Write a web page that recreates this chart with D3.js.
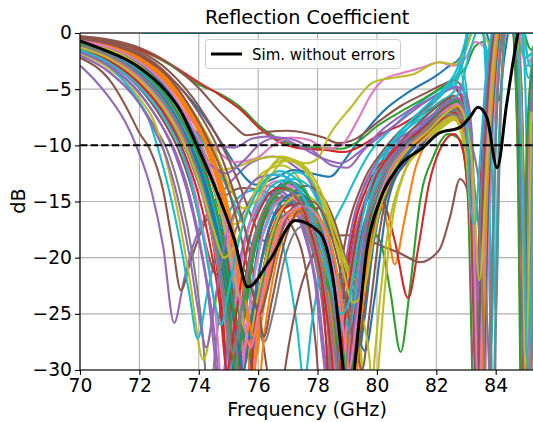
<!DOCTYPE html>
<html><head><meta charset="utf-8">
<script src="https://cdn.jsdelivr.net/npm/d3@7"></script>
<style>body{margin:0;background:#fff}svg{display:block;font-family:"DejaVu Sans",sans-serif}</style>
</head><body><svg id="c" width="533" height="422"></svg>
<script>
// ---- data (frequency GHz, reflection dB) ----
const xTicks = [70,72,74,76,78,80,82,84];
const yTicks = [0,-5,-10,-15,-20,-25,-30];
const threshold = -10;
const palette = ["#1f77b4","#ff7f0e","#2ca02c","#d62728","#9467bd","#8c564b","#e377c2","#7f7f7f","#bcbd22","#17becf"];

const simNoErrors = [[70,-0.7],[70.8,-1.5],[71.9,-2.9],[72.9,-5.2],[73.4,-7],[73.9,-9.8],[74.5,-13.4],[75.2,-18.4],[75.65,-22.6],[76.4,-20.2],[77.25,-16.7],[78.08,-17.8],[78.55,-22.4],[78.87,-30],[79.0,-33],[79.12,-33],[79.25,-29.7],[79.66,-19.3],[80.1,-14.9],[80.7,-12],[81.55,-10.2],[82.1,-8.9],[82.8,-8.4],[83.13,-7.5],[83.4,-6.6],[83.7,-7.5],[84.05,-12],[84.37,-6.3],[84.75,0],[85.0,3],[85.3,4]];

const run00 = [[70,-1.0],[71,-1.9],[72,-3.4],[73,-6.2],[73.5,-8.3],[73.95,-10.5],[74.4,-14.5],[74.8,-20],[75.1,-27],[75.35,-34],[75.6,-27],[76.0,-19],[76.6,-14.5],[77.1,-13.5],[77.6,-15],[78.1,-20],[78.5,-28],[78.75,-36],[79.0,-27],[79.4,-19],[80,-14],[81,-10.5],[81.8,-8.5],[82.5,-7],[82.8,-7.8],[83.1,-13],[83.35,-35],[83.6,-16],[83.85,-5],[84.1,2],[84.5,3],[84.75,-8],[84.95,-35],[85.15,-9],[85.3,-3]];
const run01 = [[70,-0.6],[71,-1.2],[72,-2.4],[73,-4.6],[73.6,-7],[74.2,-10],[74.7,-14],[75.1,-19],[75.45,-26],[75.7,-34],[75.95,-27],[76.4,-19],[77.0,-15],[77.4,-14.6],[77.9,-16.5],[78.4,-22],[78.75,-30],[79.0,-38],[79.25,-28],[79.6,-19],[80,-15],[80.6,-12],[81.3,-9.5],[82.0,-7.2],[82.5,-6.3],[82.85,-7.5],[83.15,-14],[83.4,-36],[83.65,-14],[83.95,-3],[84.2,3],[84.6,4],[84.85,-9],[85.05,-37],[85.25,-10]];
const run02 = [[70,-1.3],[71,-2.3],[72,-4.2],[73,-7.5],[73.6,-10],[74.1,-13.5],[74.6,-19],[74.95,-27],[75.2,-36],[75.5,-26],[75.9,-18.5],[76.5,-14.5],[76.95,-13.8],[77.5,-15.2],[78.0,-19],[78.45,-27],[78.7,-38],[79.0,-26],[79.4,-17.5],[80,-13],[80.8,-10.5],[81.5,-9],[82.2,-7],[82.6,-6.8],[82.95,-9],[83.2,-18],[83.45,-36],[83.7,-14],[83.95,-3],[84.25,3],[84.55,1],[84.8,-12],[84.95,-36],[85.15,-8],[85.3,-2]];
const run03 = [[70,-0.8],[71,-1.5],[72,-2.9],[73,-5.6],[73.5,-7.8],[74.0,-10.6],[74.5,-15],[74.9,-21],[75.25,-29],[75.5,-36],[75.8,-26],[76.3,-18.2],[76.9,-15.2],[77.3,-14.8],[77.8,-16.2],[78.3,-21],[78.65,-29],[78.85,-38],[79.1,-28],[79.5,-19.5],[80,-15.5],[80.7,-12.5],[81.5,-10],[82.2,-7.8],[82.6,-7.2],[82.95,-8.5],[83.25,-17],[83.5,-37],[83.75,-15],[84.0,-4],[84.25,2],[84.6,2.5],[84.8,-10],[85.0,-36],[85.2,-9],[85.3,-4]];
const run04 = [[70,-2.9],[70.5,-4.2],[71,-5.8],[71.5,-7.8],[71.95,-10.4],[72.4,-14],[72.8,-19],[73.17,-25.8],[73.5,-22],[73.8,-19],[74.3,-16],[75,-13.5],[75.8,-11.5],[76.5,-11],[77.2,-11.8],[77.8,-13.5],[78.3,-17],[78.7,-22],[79.0,-20],[79.4,-15],[80,-11.5],[80.7,-9.8],[81.5,-8.3],[82.2,-6.8],[82.6,-6.2],[82.9,-7.2],[83.2,-13],[83.4,-32],[83.65,-13],[83.9,-3],[84.2,2],[84.6,3],[84.85,-6],[85.1,-31],[85.3,-10]];
const run05 = [[70,-2.2],[71,-4.2],[71.6,-6.8],[72.0,-8.9],[72.36,-10.4],[72.8,-14],[73.1,-18.5],[73.4,-22.9],[73.7,-20.5],[74.1,-17.5],[74.7,-15],[75.5,-13.8],[76.3,-14.2],[77.0,-16.5],[77.6,-21],[77.95,-28],[78.2,-36],[78.5,-27],[78.9,-19],[79.5,-13.5],[80.2,-10.5],[81,-8.2],[81.8,-6.8],[82.4,-5.8],[82.8,-6.5],[83.05,-11],[83.3,-34],[83.55,-12],[83.8,-2],[84.1,3],[84.5,2],[84.75,-11],[84.9,-35],[85.1,-7],[85.3,-1.5]];
const run06 = [[70,-1.1],[71,-2.0],[72,-3.8],[73,-6.8],[73.55,-9.2],[73.9,-11.5],[74.3,-15.5],[74.7,-22],[74.95,-30],[75.15,-37],[75.4,-28],[75.8,-20],[76.4,-15],[76.9,-13.5],[77.4,-14.2],[77.9,-17.5],[78.3,-24],[78.55,-34],[78.8,-30],[79.1,-21],[79.6,-15],[80.3,-11.5],[81,-9.6],[81.8,-7.8],[82.4,-6.5],[82.75,-7.2],[83.05,-12],[83.3,-33],[83.55,-13],[83.85,-2],[84.15,3],[84.6,3],[84.85,-8],[85.05,-33],[85.25,-8]];
const run07 = [[70,-2.0],[71,-3.5],[72,-6.2],[72.5,-8.3],[72.95,-10.5],[73.4,-14.5],[73.8,-20],[74.1,-26],[74.35,-33],[74.6,-27],[75.0,-20],[75.6,-15.5],[76.3,-13.6],[77.0,-14.5],[77.6,-17.5],[78.1,-23],[78.4,-30],[78.6,-35],[78.85,-27],[79.3,-18],[80,-13],[80.8,-10.2],[81.6,-8.4],[82.3,-7],[82.7,-7.4],[83.0,-11],[83.2,-20],[83.4,-36],[83.6,-20],[83.9,-4],[84.2,2],[84.6,3],[84.8,-9],[84.98,-36],[85.2,-7]];
const run08 = [[70,-1.8],[71,-3.2],[72,-5.8],[72.5,-7.9],[72.87,-11],[73.3,-16],[73.7,-22],[74.15,-29.1],[74.5,-25],[74.9,-19],[75.4,-15],[76.0,-12.8],[76.8,-11.8],[77.5,-13.5],[78.1,-17.5],[78.6,-23.5],[79.0,-30],[79.25,-34],[79.5,-27],[79.9,-18.5],[80.5,-13],[81.3,-10.5],[82,-8],[82.5,-7.3],[82.85,-9],[83.1,-16],[83.35,-35],[83.6,-17],[83.9,-5],[84.2,1],[84.6,2],[84.85,-10],[85.05,-35],[85.25,-10]];
const run09 = [[70,-1.6],[71,-3.0],[71.8,-5.4],[72.3,-7.6],[72.64,-10.4],[73.0,-14],[73.4,-19],[73.7,-23.5],[73.96,-27.2],[74.3,-23],[74.8,-17.5],[75.4,-14.5],[75.9,-14],[76.5,-16],[77.0,-21],[77.3,-26],[77.55,-31],[77.8,-26],[78.3,-19],[79.0,-14.5],[79.8,-10.5],[80.5,-8.5],[81.3,-6.5],[82,-5.2],[82.6,-4.2],[82.9,-2],[83.1,1],[83.5,2],[83.75,-8],[83.9,-33],[84.1,-10],[84.4,1],[84.8,2],[85.0,-5],[85.15,-30],[85.3,-8]];

const run10 = [[70,-0.5],[71,-1.0],[72,-2.0],[73,-3.9],[74,-6.8],[74.7,-9.5],[75.3,-12],[75.9,-13.5],[76.5,-13],[77.2,-12.2],[77.8,-12.5],[78.4,-12.8],[79.0,-11],[79.6,-8.8],[80.2,-7],[81.1,-5.2],[82,-3.8],[82.4,-3.0],[82.8,-2.2],[83.1,-0.5],[83.4,1],[83.9,-2],[84.1,-6],[84.3,-2],[84.6,2],[84.8,-3],[85.0,-22],[85.15,-8],[85.3,-2]];
const run11 = [[70,-0.7],[71,-1.4],[72,-2.8],[73,-5.2],[73.5,-7.4],[74.05,-10],[74.6,-14.5],[75.05,-20],[75.4,-25.5],[75.7,-28],[76.0,-24],[76.5,-18.5],[77.1,-15.8],[77.6,-16.2],[78.1,-19.5],[78.5,-25],[78.85,-36],[79.15,-26],[79.5,-18.8],[80.1,-14.2],[80.8,-11.2],[81.6,-9.2],[82.3,-7.4],[82.7,-7],[83.0,-9.5],[83.25,-18],[83.5,-36],[83.75,-14],[84.0,-3],[84.3,3],[84.7,3],[84.9,-8],[85.1,-34],[85.3,-8]];
const run12 = [[70,-0.4],[71,-0.8],[72,-1.5],[73,-2.8],[74,-4.6],[74.7,-5.4],[75.4,-6.6],[76.06,-8.3],[76.74,-9.5],[77.4,-10.1],[78.0,-10.2],[78.8,-10.3],[79.4,-9.6],[80,-8.3],[80.8,-7],[81.6,-5.8],[82.2,-4.8],[82.6,-4.1],[83.0,-3],[83.3,-1.2],[83.6,-0.8],[83.85,-3],[84.05,-2],[84.3,1],[84.7,2],[85.2,-1.5],[85.3,-1]];
const run13 = [[70,-0.35],[71,-0.75],[72,-1.45],[73,-2.7],[74,-4.4],[74.7,-5.5],[75.4,-6.8],[76.1,-8.6],[76.8,-9.8],[77.5,-10.3],[78.2,-10.4],[78.9,-10.6],[79.5,-10],[80.1,-9],[80.8,-8.2],[81.6,-6.8],[82.1,-5.5],[82.5,-4.8],[82.8,-5.5],[83.05,-9],[83.3,-25],[83.55,-10],[83.8,-2],[84.1,2],[84.6,2],[84.85,-6],[85.05,-28],[85.25,-6]];
const run14 = [[70,-0.9],[71,-1.7],[72,-3.3],[73,-6],[73.8,-8.5],[74.5,-10],[75.2,-10.2],[75.8,-9.4],[76.4,-9.2],[77.0,-9.6],[77.6,-10.4],[78.2,-11.2],[78.8,-11.6],[79.4,-10.6],[80,-9.4],[80.8,-7.8],[81.6,-6.2],[82.2,-5.2],[82.6,-4.8],[82.95,-6],[83.2,-12],[83.4,-28],[83.65,-12],[83.9,-2],[84.2,2],[84.6,2],[84.85,-7],[85.05,-30],[85.25,-7]];
const run15 = [[70,-0.3],[71,-0.6],[72,-1.3],[73,-2.7],[74,-4.9],[74.7,-7],[75.2,-8.3],[75.6,-9.1],[76.3,-8.8],[77.0,-8.7],[77.6,-8.9],[78.2,-9.3],[78.7,-9.8],[79.3,-9.4],[80,-8],[80.8,-6.5],[81.6,-5.4],[82.2,-4.6],[82.6,-4.2],[82.9,-5],[83.15,-9],[83.4,-20],[83.6,-9],[83.85,-1],[84.2,2],[84.6,1],[84.85,-4],[85.05,-22],[85.25,-6]];
const run16 = [[70,-0.8],[71,-1.5],[72,-2.9],[73,-5.4],[74,-8.6],[74.6,-10.4],[75.2,-11.5],[75.9,-11.2],[76.5,-10],[77.1,-9.3],[77.7,-9.5],[78.3,-10.3],[78.8,-10],[79.3,-8],[79.8,-5.5],[80.2,-4.2],[80.8,-3.6],[81.5,-3.1],[82.1,-2.6],[82.6,-2.9],[83,-2.2],[83.3,-0.8],[83.7,-1.5],[83.95,-5],[84.1,-2],[84.4,1],[84.8,0],[85.0,-3],[85.3,-1.5]];
const run17 = [[70,-1.4],[71,-2.5],[72,-4.5],[73,-7.8],[73.5,-10],[74,-13],[74.5,-17],[74.9,-22],[75.2,-27],[75.45,-30],[75.7,-26],[76.1,-20.5],[76.6,-17],[77.1,-16],[77.6,-17],[78.1,-20.5],[78.5,-26],[78.8,-33],[79.05,-28],[79.4,-21],[79.9,-15.5],[80.6,-11.8],[81.4,-9.4],[82.1,-7.6],[82.6,-6.9],[82.9,-8],[83.2,-16],[83.45,-36],[83.7,-18],[83.95,-6],[84.2,1],[84.6,3],[84.85,-10],[85.0,-37],[85.2,-10]];
const run18 = [[70,-1.0],[71,-1.8],[72,-3.3],[73,-6],[73.6,-8.6],[74.1,-10.5],[74.7,-12.2],[75.4,-11.8],[76.0,-11.2],[76.8,-11],[77.6,-11.6],[78.0,-11.2],[78.4,-9.1],[79.1,-6.7],[79.87,-4.4],[80.5,-4],[81.2,-3.7],[82.1,-2.6],[82.6,-2.8],[83,-1.5],[83.3,0.5],[83.7,-0.6],[84.0,-2.2],[84.3,0],[84.8,1],[85.1,-2],[85.3,-1.5]];
const run19 = [[70,-1.2],[71,-2.1],[72,-3.8],[73,-6.9],[73.6,-9.8],[74.1,-13],[74.5,-17],[74.8,-21.5],[75.05,-24],[75.35,-21],[75.7,-17],[76.2,-13.5],[76.7,-12.3],[77.2,-12.8],[77.7,-14.5],[78.2,-18],[78.6,-22],[78.95,-25.5],[79.3,-22],[79.7,-16],[80.3,-11.5],[81,-8.6],[81.7,-6.8],[82.3,-5.2],[82.7,-4.2],[82.95,-2],[83.15,1],[83.5,1],[83.7,-6],[83.85,-28],[84.0,-8],[84.2,-1],[84.5,2],[84.9,1],[85.15,-3],[85.3,-1]];

const run20 = [[70,-0.9],[71,-1.7],[72,-3.1],[73,-5.8],[73.7,-8.8],[74.15,-11],[74.7,-16],[75.1,-22],[75.35,-27],[75.6,-31],[75.85,-27],[76.3,-20],[76.9,-15.5],[77.4,-14.8],[77.9,-16],[78.5,-21],[79.0,-27],[79.3,-29.5],[79.55,-26],[79.9,-18.5],[80.5,-13.5],[81.2,-10.8],[81.9,-9],[82.5,-7.6],[82.85,-8.2],[83.1,-14],[83.35,-37],[83.6,-15],[83.9,-3],[84.15,2],[84.5,3],[84.75,-9],[84.95,-36],[85.15,-8]];
const run21 = [[70,-0.6],[71,-1.2],[72,-2.5],[73,-4.7],[73.7,-7.3],[74.25,-10],[74.8,-14.5],[75.3,-20],[75.65,-26],[75.9,-29],[76.15,-25],[76.6,-19.5],[77.2,-16.8],[77.7,-16.4],[78.1,-19],[78.4,-24],[78.75,-31],[79.05,-22],[79.5,-14.5],[79.9,-14],[80.3,-16.5],[80.6,-20.6],[80.9,-17],[81.3,-12],[81.8,-9.2],[82.4,-7.6],[82.8,-8],[83.1,-12],[83.35,-35],[83.6,-13],[83.9,-3],[84.2,2],[84.6,2],[84.85,-7],[85.05,-33],[85.25,-7]];
const run22 = [[70,-1.2],[71,-2.2],[72,-4],[73,-7.2],[73.6,-10.2],[74.1,-14],[74.55,-19.5],[74.9,-25],[75.2,-29],[75.5,-25],[75.9,-19],[76.5,-15.5],[77.0,-14.9],[77.5,-16],[78.0,-19.5],[78.5,-23.5],[78.9,-24],[79.3,-20.5],[79.7,-17.5],[80.1,-18.5],[80.45,-23],[80.8,-28.4],[81.1,-23],[81.45,-15],[81.9,-11],[82.4,-9],[82.8,-9.5],[83.05,-14],[83.3,-36],[83.55,-16],[83.85,-4],[84.1,1],[84.6,3],[84.85,-9],[84.98,-36],[85.15,-8]];
const run23 = [[70,-1.0],[71,-1.9],[72,-3.5],[73,-6.4],[73.65,-9.6],[74.1,-12.5],[74.6,-17.5],[75.0,-23],[75.3,-28],[75.55,-24],[76.0,-18],[76.6,-15],[77.1,-14.6],[77.6,-15.8],[78.1,-19],[78.55,-23],[78.9,-22],[79.3,-17.5],[79.8,-14.5],[80.2,-15],[80.6,-18.5],[81.05,-23.6],[81.4,-19],[81.75,-13.5],[82.1,-10.5],[82.6,-9],[82.9,-10.5],[83.15,-18],[83.4,-37],[83.65,-16],[83.9,-4],[84.2,2],[84.6,2],[84.85,-10],[85.0,-36],[85.2,-8]];
const run24 = [[70,-1.6],[71,-2.9],[72,-5.3],[72.6,-7.6],[73.2,-10.5],[73.7,-14.5],[74.1,-19.5],[74.45,-25],[74.75,-31],[75.05,-26],[75.5,-19],[76.1,-15.2],[76.6,-14],[77.1,-14.8],[77.6,-18],[78.0,-23],[78.3,-30],[78.55,-35],[78.8,-27],[79.2,-19],[79.8,-13.5],[80.5,-10.5],[81.3,-8.8],[82,-7.2],[82.5,-6.5],[82.8,-7],[83.05,-11],[83.3,-31],[83.55,-12],[83.85,-2],[84.15,2],[84.6,2],[84.8,-8],[84.95,-34],[85.15,-7]];
const run25 = [[70,-1.5],[71,-2.7],[72,-4.9],[72.8,-7.8],[73.3,-10.3],[73.8,-14.2],[74.2,-18.5],[74.6,-21.5],[75.0,-20.5],[75.5,-21],[76.0,-25],[76.3,-30],[76.6,-36],[76.9,-30],[77.4,-23],[77.9,-19.5],[78.3,-18.1],[79.0,-18],[79.66,-18.4],[80.2,-19],[80.78,-19.6],[81.45,-20.4],[82.1,-19.3],[82.46,-16.4],[82.8,-13],[83.05,-14],[83.3,-24],[83.55,-32],[83.75,-16],[84.0,-5],[84.3,0],[84.6,1],[84.85,-6],[85.05,-30],[85.25,-8]];
const run26 = [[70,-0.9],[71,-1.6],[72,-3.0],[73,-5.6],[73.7,-8.6],[74.2,-11.2],[74.7,-15.5],[75.1,-21],[75.4,-26],[75.7,-33],[76.0,-27],[76.4,-21],[77.0,-16.8],[77.5,-16.2],[78.0,-17.5],[78.4,-21],[78.7,-26],[78.95,-31],[79.2,-27],[79.6,-20],[80.2,-14.5],[80.9,-11.2],[81.6,-9.5],[82.3,-7.8],[82.7,-7.5],[83.0,-9.5],[83.3,-22],[83.55,-37],[83.8,-15],[84.05,-3],[84.3,2],[84.6,3],[84.85,-5],[85.08,-33],[85.3,-9]];
const run27 = [[70,-1.3],[71,-2.4],[72,-4.3],[73,-7.6],[73.55,-10.3],[74.0,-13.4],[74.5,-16.5],[75.0,-19],[75.5,-21.5],[75.9,-25],[76.2,-27.5],[76.5,-25],[76.9,-20],[77.4,-17.3],[77.9,-17],[78.4,-19],[78.8,-22.5],[79.1,-23.5],[79.4,-21],[79.8,-16],[80.4,-12.2],[81.1,-10],[81.9,-8.4],[82.5,-7.3],[82.85,-8],[83.1,-13],[83.35,-34],[83.6,-14],[83.9,-3],[84.2,2],[84.6,3],[84.85,-8],[85.02,-34],[85.2,-9]];
const run28 = [[70,-1.1],[71,-2],[72,-3.6],[73,-6.5],[73.7,-10],[74.2,-13],[74.7,-16],[75.2,-17],[75.5,-16.5],[76.0,-13.5],[76.5,-11.8],[76.9,-11.3],[77.4,-11.8],[78.0,-14],[78.6,-18],[79.1,-23],[79.45,-28],[79.7,-36],[79.95,-28],[80.3,-19],[80.9,-12.5],[81.6,-10],[82.3,-8.2],[82.7,-7.6],[83.0,-9],[83.25,-16],[83.5,-36],[83.75,-14],[84.0,-3],[84.3,2],[84.6,2],[84.85,-9],[85.0,-35],[85.2,-9]];
const run29 = [[70,-0.8],[71,-1.5],[72,-2.8],[73,-5.3],[73.8,-8.5],[74.35,-10.6],[74.9,-13.5],[75.5,-17],[75.9,-19.2],[76.3,-17],[76.8,-13.5],[77.3,-12.4],[77.8,-13.2],[78.2,-16],[78.6,-21],[78.98,-25.8],[79.3,-22],[79.7,-15.5],[80.2,-11.2],[80.9,-8.8],[81.6,-7.4],[82.2,-6],[82.6,-5.2],[82.85,-3],[83.05,-6],[83.25,-15.5],[83.4,-28],[83.55,-14],[83.8,-3],[84.1,2],[84.5,2],[84.8,-4],[85.0,-30],[85.2,-4]];

const run30 = [[70,-1.1],[71,-2],[72,-3.7],[73,-6.7],[73.65,-9.8],[74.15,-13.2],[74.6,-18],[74.95,-24],[75.2,-31],[75.5,-25],[75.9,-18.5],[76.5,-14.2],[77.0,-13.2],[77.5,-13.9],[78.0,-16.5],[78.6,-21],[79.2,-25.5],[79.6,-28.3],[79.9,-24],[80.3,-16],[80.9,-11.5],[81.6,-9.2],[82.3,-7.2],[82.7,-6.8],[83.0,-9],[83.25,-20],[83.5,-37],[83.75,-15],[84.0,-3],[84.3,2],[84.6,3],[84.85,-8],[85.0,-36],[85.2,-7]];
const run31 = [[70,-0.5],[71,-1.0],[72,-2.1],[73,-4.2],[73.7,-6.8],[74.35,-10],[74.9,-14.5],[75.35,-20],[75.7,-26],[75.95,-33],[76.2,-27],[76.6,-20.5],[77.2,-16.5],[77.7,-15.8],[78.2,-17],[78.6,-20.5],[78.95,-26.5],[79.2,-33],[79.45,-26],[79.8,-18],[80.4,-12.8],[81.1,-10],[81.8,-8.2],[82.4,-6.8],[82.75,-6.6],[83.0,-8.5],[83.25,-17],[83.45,-35],[83.7,-14],[83.95,-3],[84.25,2],[84.6,3],[84.9,-10],[85.05,-36],[85.25,-8]];
const run32 = [[70,-0.7],[71,-1.3],[72,-2.6],[73,-5],[73.7,-8],[74.25,-11],[74.75,-15.5],[75.15,-21],[75.45,-26.5],[75.7,-29],[75.95,-25],[76.4,-19],[77.0,-15.2],[77.5,-14.6],[78.0,-16],[78.45,-20.5],[78.8,-27],[79.05,-35],[79.3,-27],[79.7,-18.5],[80.3,-12.5],[81,-9.6],[81.7,-7.8],[82.3,-6.2],[82.7,-5.8],[82.95,-7.5],[83.2,-14],[83.45,-36],[83.7,-14],[83.95,-3],[84.2,2],[84.6,2],[84.8,-7],[84.95,-35],[85.15,-8]];
const run33 = [[70,-1.2],[71,-2.2],[72,-4],[73,-7.2],[73.6,-10.1],[74.05,-13.5],[74.5,-19],[74.8,-25],[75.05,-33],[75.3,-27],[75.7,-20],[76.3,-15.6],[76.8,-14.6],[77.3,-15.4],[77.8,-18.5],[78.2,-24],[78.45,-33],[78.7,-27],[79.1,-19],[79.7,-13.5],[80.4,-10.8],[81.2,-9],[81.9,-7.6],[82.5,-6.6],[82.8,-7.2],[83.05,-11],[83.3,-30],[83.55,-13],[83.8,-3],[84.1,2],[84.6,3],[84.8,-9],[84.95,-35],[85.15,-8]];
const run34 = [[70,-1.7],[71,-3],[72,-5.4],[72.7,-8],[73.2,-10.8],[73.6,-14],[74.0,-18.5],[74.3,-23],[74.55,-29],[74.75,-34],[75.0,-27],[75.4,-20],[76.0,-15.5],[76.5,-14.2],[77.0,-14.8],[77.5,-17.5],[77.9,-22],[78.2,-29],[78.45,-34],[78.7,-26],[79.1,-18],[79.7,-13],[80.4,-10.2],[81.2,-8.6],[82,-7],[82.5,-6],[82.8,-6.5],[83.05,-10],[83.3,-29],[83.55,-12],[83.8,-2],[84.1,2],[84.6,2],[84.8,-6],[85.0,-32],[85.2,-6]];
const run35 = [[70,-0.3],[71,-0.7],[72,-1.6],[73,-3.4],[74,-6.5],[74.7,-9.6],[75.3,-13],[75.8,-16.5],[76.2,-18.5],[76.6,-17],[77.1,-14.5],[77.6,-13.6],[78.1,-14.3],[78.6,-17],[79.0,-20.5],[79.35,-22.5],[79.7,-19],[80.2,-13],[80.8,-9.8],[81.5,-7.8],[82.2,-6.2],[82.6,-5.6],[82.9,-6.5],[83.15,-11],[83.4,-30],[83.65,-12],[83.9,-2],[84.2,2],[84.6,2],[84.85,-8],[85.0,-31],[85.2,-8]];
const run36 = [[70,-1.4],[71,-2.5],[72,-4.6],[73,-8],[73.45,-10.4],[73.9,-14.5],[74.3,-20],[74.6,-26],[74.85,-34],[75.1,-27],[75.5,-19.5],[76.1,-14.6],[76.6,-13.2],[77.1,-13.8],[77.6,-16.2],[78.1,-21],[78.45,-28],[78.7,-34],[78.95,-27],[79.3,-19],[79.9,-13.2],[80.6,-10.4],[81.4,-8.6],[82.1,-7],[82.6,-6.1],[82.9,-7],[83.15,-12],[83.4,-33],[83.65,-13],[83.9,-3],[84.2,2],[84.6,3],[84.8,-7],[84.95,-34],[85.15,-7]];
const run37 = [[70,-1.0],[71,-1.8],[72,-3.4],[73,-6.2],[73.7,-9.4],[74.2,-12.6],[74.7,-17.5],[75.05,-23],[75.35,-30],[75.6,-35],[75.85,-28],[76.25,-20],[76.8,-15.8],[77.3,-15],[77.8,-16.2],[78.3,-20],[78.7,-26],[78.95,-35],[79.2,-28],[79.6,-19.5],[80.2,-14],[80.9,-11],[81.7,-9],[82.4,-7.2],[82.8,-7],[83.1,-10],[83.4,-24],[83.65,-38],[83.85,-22],[84.05,-6],[84.3,1],[84.6,2],[84.85,-5],[85.05,-34],[85.25,-7]];
const run38 = [[70,-0.6],[71,-1.1],[72,-2.2],[73,-4.3],[74,-7.8],[74.5,-10.2],[75.0,-13.4],[75.5,-15.6],[75.9,-15],[76.4,-12.8],[76.9,-11.4],[77.4,-11.6],[77.9,-13],[78.4,-16],[78.9,-20],[79.3,-22],[79.7,-19.5],[80.2,-14.5],[80.8,-11.2],[81.5,-9.6],[82.2,-8],[82.6,-7.4],[82.9,-8.5],[83.15,-13],[83.4,-28],[83.65,-12],[83.9,-2],[84.2,2],[84.6,2],[84.85,-10],[85.02,-35],[85.2,-8]];
const run39 = [[70,-0.9],[71,-1.7],[72,-3.1],[73,-5.9],[73.75,-9.2],[74.25,-12],[74.75,-16],[75.15,-20.5],[75.5,-24.5],[75.8,-22],[76.2,-17.5],[76.7,-14],[77.2,-13],[77.7,-13.6],[78.2,-16.5],[78.6,-20.5],[78.95,-25.5],[79.15,-27],[79.4,-24],[79.8,-17],[80.4,-12],[81.1,-9.4],[81.8,-7.6],[82.4,-6.2],[82.8,-5.2],[83.0,-3],[83.2,-1],[83.45,0.5],[83.7,-2],[83.85,-10],[84.0,-25],[84.15,-9],[84.4,1],[84.8,1],[85.1,-4],[85.3,-2]];

const run40 = [[70,-0.8],[71,-1.5],[72,-2.8],[73,-5.3],[73.75,-8.6],[74.2,-11],[74.7,-15],[75.1,-20],[75.4,-25],[75.65,-27.5],[75.9,-24.5],[76.35,-19],[76.9,-15.5],[77.4,-15],[77.9,-16.6],[78.4,-21.5],[78.75,-28],[79.0,-33],[79.25,-27],[79.6,-20],[80.2,-14.5],[80.9,-11.2],[81.6,-9.1],[82.3,-7.3],[82.7,-6.6],[83.0,-8],[83.25,-15],[83.5,-36],[83.75,-14],[84.0,-3],[84.3,2],[84.6,3],[84.85,-6],[85.05,-33],[85.25,-7]];
const run41 = [[70,-0.6],[71,-1.2],[72,-2.3],[73,-4.5],[73.75,-7.4],[74.3,-10.4],[74.85,-15],[75.25,-20.5],[75.55,-26],[75.8,-31],[76.05,-26],[76.5,-19.5],[77.1,-16.3],[77.6,-16],[78.1,-17.5],[78.55,-21.5],[78.9,-28],[79.12,-36],[79.35,-28],[79.7,-19.5],[80.3,-13.2],[81,-10.2],[81.7,-8.4],[82.3,-7],[82.65,-6.4],[82.95,-7.4],[83.2,-13],[83.45,-34],[83.7,-13],[83.95,-2],[84.25,2],[84.6,3],[84.85,-8],[85.0,-34],[85.2,-8]];
const run42 = [[70,-1.0],[71,-1.9],[72,-3.5],[73,-6.4],[73.7,-9.8],[74.2,-13],[74.65,-18],[75.0,-24],[75.25,-30],[75.5,-26],[75.9,-19],[76.5,-14.8],[77.0,-13.9],[77.5,-14.8],[78.0,-18],[78.45,-23.5],[78.75,-30],[79.0,-37],[79.25,-28],[79.6,-20],[80.2,-13.5],[80.9,-10.5],[81.6,-8.6],[82.3,-6.8],[82.7,-6.2],[82.95,-7.5],[83.15,-13],[83.35,-32],[83.55,-15],[83.8,-3],[84.1,2],[84.5,3],[84.72,-8],[84.88,-36],[85.05,-10],[85.3,-2]];
const run43 = [[70,-0.9],[71,-1.6],[72,-3.2],[73,-6],[73.7,-9.1],[74.2,-12.2],[74.65,-16.5],[75.05,-22],[75.35,-28],[75.6,-36],[75.85,-27],[76.3,-19.5],[76.9,-15.6],[77.4,-15.2],[77.9,-16.8],[78.35,-21],[78.7,-27],[78.9,-34],[79.15,-27],[79.55,-19],[80.1,-14],[80.8,-11],[81.5,-9.4],[82.2,-7.6],[82.6,-7.1],[82.9,-8.6],[83.15,-15],[83.4,-35],[83.65,-13],[83.9,-3],[84.2,2],[84.6,2],[84.82,-7],[84.97,-35],[85.2,-8]];
const run44 = [[70,-1.0],[71,-1.8],[72,-3.5],[73,-6.4],[73.75,-9.6],[74.3,-11.5],[74.9,-12.5],[75.5,-11.4],[76.1,-9.8],[76.7,-9.3],[77.3,-9.6],[77.9,-10.6],[78.5,-11.8],[79.0,-12],[79.5,-10.6],[80.1,-8.8],[80.9,-7.2],[81.7,-6],[82.3,-5.2],[82.7,-4.8],[83.0,-5.5],[83.2,-9],[83.4,-24],[83.6,-10],[83.85,-1],[84.2,2],[84.6,2],[84.85,-5],[85.05,-26],[85.25,-5]];
const run45 = [[70,-0.4],[71,-0.9],[72,-1.8],[73,-3.8],[74,-7.1],[74.6,-10],[75.1,-13.5],[75.6,-18],[75.95,-23],[76.2,-27],[76.45,-24],[76.9,-18.5],[77.5,-15.6],[78.0,-15.6],[78.5,-17.5],[78.9,-21],[79.25,-27],[79.5,-30],[79.75,-25],[80.1,-17.5],[80.7,-12],[81.4,-9.4],[82.1,-7.6],[82.6,-6.6],[82.9,-7.5],[83.15,-14],[83.4,-34],[83.65,-14],[83.9,-4],[84.2,1],[84.6,2],[84.85,-7],[85.05,-33],[85.25,-7]];
const run46 = [[70,-1.2],[71,-2.2],[72,-4],[73,-7.2],[73.6,-10.2],[74.05,-13.8],[74.45,-18],[74.8,-23.5],[75.05,-29],[75.3,-35],[75.55,-28],[75.95,-20.5],[76.5,-15.6],[77.0,-14.6],[77.5,-15.5],[78.0,-19],[78.35,-24],[78.6,-30],[78.82,-36],[79.05,-28],[79.45,-19.5],[80.1,-13.6],[80.8,-10.8],[81.5,-9],[82.2,-7.2],[82.6,-6.6],[82.9,-8],[83.15,-16],[83.38,-36],[83.62,-14],[83.85,-3],[84.15,2],[84.6,3],[84.82,-9],[84.98,-36],[85.2,-8]];
const run47 = [[70,-1.3],[71,-2.3],[72,-4.2],[73,-7.5],[73.6,-10.4],[74.1,-14],[74.55,-19],[74.9,-25],[75.15,-31],[75.4,-26],[75.8,-19.5],[76.4,-15.4],[76.9,-14.6],[77.4,-15.8],[77.9,-19.5],[78.3,-25],[78.55,-32],[78.8,-27],[79.2,-19.5],[79.8,-14],[80.5,-11],[81.3,-9.3],[82.0,-7.8],[82.5,-7.2],[82.85,-7.8],[83.2,-10],[83.5,-15],[83.75,-28],[83.9,-38],[84.05,-20],[84.2,-4],[84.4,2],[84.6,3],[84.8,-3],[85.0,-20],[85.15,-36],[85.3,-10]];
const run48 = [[70,-0.8],[71,-1.5],[72,-2.9],[73,-5.5],[73.75,-8.9],[74.25,-11.8],[74.75,-16],[75.15,-21],[75.45,-25.5],[75.7,-27],[75.95,-24],[76.4,-18.5],[77.0,-15],[77.5,-14.4],[78.0,-15.2],[78.6,-18.5],[79.1,-22],[79.5,-25],[79.75,-29],[79.9,-34],[80.1,-28],[80.4,-19],[80.9,-12.6],[81.5,-10.3],[82.2,-8.2],[82.6,-7.6],[82.9,-9],[83.15,-17],[83.4,-36],[83.65,-15],[83.9,-3],[84.2,2],[84.6,2],[84.82,-8],[84.98,-34],[85.2,-8]];
const run49 = [[70,-1.0],[71,-1.8],[72,-3.3],[73,-6.1],[73.7,-9.4],[74.2,-12.6],[74.6,-16.5],[74.95,-21.5],[75.25,-24.5],[75.5,-21],[75.9,-16.5],[76.4,-13.8],[76.9,-13.1],[77.4,-13.9],[77.9,-16.8],[78.35,-21],[78.7,-25.5],[78.98,-27],[79.25,-24],[79.7,-16],[80.3,-11],[81,-8.2],[81.7,-6.4],[82.3,-4.8],[82.7,-3.2],[82.95,-1],[83.2,1],[83.6,2],[84.0,1],[84.4,2],[84.8,-1],[85.0,-2.2],[85.3,-1.5]];

const run50 = [[70,-1.1],[71,-2.0],[72,-3.6],[73,-6.5],[73.65,-9.6],[74.15,-12.8],[74.6,-17.2],[75.0,-22.5],[75.3,-27.5],[75.5,-30],[75.75,-26],[76.2,-19],[76.8,-15],[77.3,-14.2],[77.8,-15.3],[78.3,-19],[78.7,-25],[79.0,-31],[79.25,-26],[79.6,-18],[80.2,-12.8],[80.9,-10],[81.6,-8.3],[82.3,-6.6],[82.7,-6],[82.95,-7],[83.2,-12],[83.4,-30],[83.65,-12],[83.9,-2],[84.2,2],[84.6,2],[84.85,-9],[85.02,-34],[85.2,-8]];
const run51 = [[70,-0.55],[71,-1.1],[72,-2.2],[73,-4.3],[73.75,-7.2],[74.3,-10.2],[74.8,-14],[75.2,-18.8],[75.55,-23.5],[75.85,-27],[76.1,-24.5],[76.55,-19],[77.15,-16],[77.65,-15.5],[78.15,-16.8],[78.6,-20.5],[78.95,-27],[79.15,-34],[79.4,-27],[79.75,-19],[80.35,-13],[81.05,-10.1],[81.75,-8.3],[82.35,-6.9],[82.7,-6.5],[82.98,-7.8],[83.22,-14],[83.47,-35],[83.72,-14],[83.97,-3],[84.25,2],[84.6,3],[84.88,-9],[85.04,-35],[85.25,-8]];
const run52 = [[70,-0.9],[71,-1.7],[72,-3.2],[73,-6],[73.7,-9.2],[74.2,-12.4],[74.7,-17],[75.05,-22.5],[75.3,-26],[75.55,-23.5],[76.0,-18],[76.6,-14.2],[77.1,-13.3],[77.6,-14.2],[78.1,-17.5],[78.5,-22],[78.85,-28],[79.1,-32],[79.35,-26],[79.7,-18],[80.3,-12.8],[81.0,-10],[81.7,-8.2],[82.3,-6.6],[82.65,-6],[82.9,-6.8],[83.15,-12],[83.38,-34],[83.6,-14],[83.85,-3],[84.15,2],[84.55,3],[84.8,-6],[84.98,-33],[85.2,-7]];
const run53 = [[70,-1.4],[71,-2.5],[72,-4.5],[73,-7.9],[73.5,-10.6],[73.95,-14],[74.35,-18.5],[74.7,-24],[74.95,-30],[75.2,-26],[75.6,-19.5],[76.2,-15],[76.7,-13.8],[77.2,-14.4],[77.7,-17],[78.15,-22],[78.45,-28],[78.65,-33],[78.9,-26],[79.3,-18.5],[79.9,-13.2],[80.6,-10.4],[81.4,-8.8],[82.1,-7.3],[82.6,-6.5],[82.9,-7.6],[83.15,-14],[83.4,-34],[83.62,-14],[83.87,-3],[84.15,2],[84.6,3],[84.82,-8],[84.98,-35],[85.2,-8]];
const run54 = [[70,-2.0],[71,-3.5],[72,-6.3],[72.5,-8.6],[72.9,-11],[73.3,-14.8],[73.7,-20],[74.0,-25],[74.25,-28],[74.5,-24.5],[74.9,-18.5],[75.5,-14.5],[76.1,-12.8],[76.7,-12.6],[77.3,-13.8],[77.9,-17],[78.4,-22],[78.75,-28],[79.0,-31],[79.25,-26],[79.6,-18],[80.2,-12.5],[80.9,-9.8],[81.6,-8],[82.3,-6.4],[82.7,-5.8],[82.95,-6.8],[83.2,-12],[83.4,-29],[83.62,-12],[83.87,-2],[84.15,2],[84.6,2],[84.8,-6],[84.97,-31],[85.2,-6]];
const run55 = [[70,-0.5],[71,-1.0],[72,-2.0],[73,-4.0],[73.8,-7.0],[74.45,-10.3],[75.0,-14],[75.45,-18.5],[75.8,-23],[76.05,-25],[76.3,-23],[76.75,-18],[77.3,-15.2],[77.8,-15],[78.3,-16.8],[78.75,-21],[79.1,-26],[79.3,-28.5],[79.55,-25],[79.9,-17.5],[80.5,-12.2],[81.2,-9.6],[81.9,-7.8],[82.5,-6.4],[82.85,-6.8],[83.1,-11],[83.35,-31],[83.6,-12],[83.85,-2],[84.15,2],[84.6,2],[84.85,-8],[85.0,-32],[85.2,-8]];
const run56 = [[70,-0.7],[71,-1.3],[72,-2.6],[73,-5.0],[73.75,-8.2],[74.3,-11.4],[74.8,-15.8],[75.2,-21],[75.5,-25.5],[75.75,-28],[76.0,-25],[76.45,-19.5],[77.05,-16],[77.55,-15.4],[78.05,-16.6],[78.5,-20.5],[78.85,-26],[79.05,-30],[79.3,-26],[79.7,-18.5],[80.3,-13],[81.0,-10.2],[81.7,-8.4],[82.3,-6.9],[82.7,-6.3],[82.97,-7.5],[83.2,-13],[83.42,-33],[83.66,-13],[83.92,-2],[84.2,2],[84.6,3],[84.85,-6],[85.03,-34],[85.25,-7]];
const run57 = [[70,-1.1],[71,-2.0],[72,-3.7],[73,-6.7],[73.65,-10],[74.1,-13.6],[74.55,-18.5],[74.9,-24],[75.15,-28.5],[75.4,-25],[75.8,-19],[76.4,-14.8],[76.9,-14],[77.4,-14.9],[77.9,-18],[78.3,-23],[78.6,-29],[78.8,-33],[79.05,-27],[79.45,-19],[80.05,-13.5],[80.75,-10.6],[81.5,-8.9],[82.2,-7.3],[82.6,-6.8],[82.9,-7.6],[83.2,-12],[83.5,-20],[83.75,-36],[83.95,-14],[84.15,-2],[84.4,2],[84.65,2],[84.85,-6],[85.05,-36],[85.25,-8]];
const run58 = [[70,-1.3],[71,-2.3],[72,-4.2],[73,-7.4],[73.6,-10.4],[74.05,-13.5],[74.5,-17.5],[74.85,-20],[75.2,-19],[75.7,-15.5],[76.3,-12.4],[76.8,-11.1],[77.3,-11.4],[77.8,-13],[78.3,-16],[78.8,-20.5],[79.2,-24],[79.55,-23],[79.9,-18],[80.4,-13],[81.0,-10.5],[81.7,-8.8],[82.3,-7.2],[82.7,-6.5],[82.95,-7.5],[83.2,-11.5],[83.45,-22],[83.7,-12],[83.95,-2],[84.25,2],[84.6,2],[84.85,-7],[85.0,-30],[85.2,-7]];
const run59 = [[70,-1.5],[71,-2.7],[72,-4.8],[73,-8.3],[73.4,-10.4],[73.85,-14.5],[74.2,-19],[74.5,-23.5],[74.75,-26],[75.0,-23],[75.4,-18],[76.0,-14],[76.5,-12.6],[77.0,-12.9],[77.5,-14.5],[78.0,-18],[78.4,-22],[78.8,-25],[79.05,-24],[79.4,-18],[79.9,-12.5],[80.6,-9.4],[81.3,-7.4],[82.0,-5.7],[82.5,-4.6],[82.8,-3.4],[83.0,-7],[83.15,-15.5],[83.3,-17],[83.45,-12],[83.7,-3],[84.0,1],[84.4,2],[84.75,-2],[84.95,-20],[85.1,-30],[85.3,-6]];

const flatRun = [[72.1,0],[85.3,0]];

const runs = [run00,run01,run02,run03,run04,run05,run06,run07,run08,run09,
  run10,run11,run12,run13,run14,run15,run16,run17,run18,run19,
  run20,run21,run22,run23,run24,run25,run26,run27,run28,run29,
  run30,run31,run32,run33,run34,run35,run36,run37,run38,run39,
  run40,run41,run42,run43,run44,run45,run46,run47,run48,run49,
  run50,run51,run52,run53,run54,run55,run56,run57,run58,run59];

// ---- drawing ----
const svg = d3.select("#c");
const L = 80, T = 33, B = 370, R = 534.3;
const x = d3.scaleLinear().domain([70, 85.3]).range([L, R]);
const y = d3.scaleLinear().domain([-30, 0]).range([B, T]);

svg.append("defs").append("clipPath").attr("id","clip")
  .append("rect").attr("x",L).attr("y",T).attr("width",R-L).attr("height",B-T);

// grid
const g = svg.append("g");
g.selectAll(".gx").data(xTicks).join("line")
  .attr("x1",d=>x(d)).attr("x2",d=>x(d)).attr("y1",T).attr("y2",B)
  .attr("stroke","#b0b0b0").attr("stroke-width",1.1);
g.selectAll(".gy").data(yTicks).join("line")
  .attr("x1",L).attr("x2",R).attr("y1",d=>y(d)).attr("y2",d=>y(d))
  .attr("stroke","#b0b0b0").attr("stroke-width",1.1);

const line = d3.line().x(d=>x(d[0])).y(d=>y(d[1])).curve(d3.curveMonotoneX);
const plot = svg.append("g").attr("clip-path","url(#clip)");
plot.selectAll(".run").data(runs).join("path")
  .attr("d",line).attr("fill","none")
  .attr("stroke",(d,i)=>palette[i%10]).attr("stroke-width",2.1)
  .attr("stroke-linejoin","round");

// spines (left, bottom, top)
svg.append("line").attr("x1",L).attr("x2",L).attr("y1",T).attr("y2",B).attr("stroke","#000").attr("stroke-width",1.1);
svg.append("line").attr("x1",L).attr("x2",R).attr("y1",B).attr("y2",B).attr("stroke","#000").attr("stroke-width",1.1);
svg.append("line").attr("x1",L).attr("x2",R).attr("y1",T).attr("y2",T).attr("stroke","#000").attr("stroke-width",1.1);
plot.append("path").datum(flatRun).attr("d",line).attr("fill","none").attr("stroke",palette[9]).attr("stroke-width",2);

// threshold
plot.append("line").attr("x1",L).attr("x2",R).attr("y1",y(threshold)).attr("y2",y(threshold))
  .attr("stroke","#000").attr("stroke-width",2).attr("stroke-dasharray","7.4,3.2");

// nominal
plot.append("path").datum(simNoErrors).attr("d",line).attr("fill","none")
  .attr("stroke","#000").attr("stroke-width",3).attr("stroke-linejoin","round");

// axes
const xa = svg.append("g").attr("transform",`translate(0,${B})`)
  .call(d3.axisBottom(x).tickValues(xTicks).tickSize(5).tickPadding(4).tickFormat(d=>d));
const ya = svg.append("g").attr("transform",`translate(${L},0)`)
  .call(d3.axisLeft(y).tickValues(yTicks).tickSize(5).tickPadding(3).tickFormat(d=>d<0?"\u2212"+Math.abs(d):d));
[xa,ya].forEach(a=>{
  a.select(".domain").remove();
  a.selectAll("line").attr("stroke","#000").attr("stroke-width",1.1);
  a.selectAll("text").attr("fill","#000").style("font-size","18.7px").style("font-family","DejaVu Sans");
});

// texts
svg.append("text").attr("x",(L+R)/2).attr("y",24).attr("text-anchor","middle")
  .style("font-size","19.2px").text("Reflection Coefficient");
svg.append("text").attr("x",(L+R)/2).attr("y",416).attr("text-anchor","middle")
  .style("font-size","19.2px").text("Frequency (GHz)");
svg.append("text").attr("transform","translate(25,201) rotate(-90)").attr("text-anchor","middle")
  .style("font-size","19.2px").text("dB");

// legend
const lg = svg.append("g");
lg.append("rect").attr("x",205.5).attr("y",39.5).attr("width",195).attr("height",29).attr("rx",3)
  .attr("fill","#fff").attr("fill-opacity",0.8).attr("stroke","#cccccc").attr("stroke-width",1);
lg.append("line").attr("x1",211).attr("x2",242).attr("y1",54).attr("y2",54).attr("stroke","#000").attr("stroke-width",3);
lg.append("text").attr("x",252).attr("y",59.5).style("font-size","15px").text("Sim. without errors");
</script></body></html>
